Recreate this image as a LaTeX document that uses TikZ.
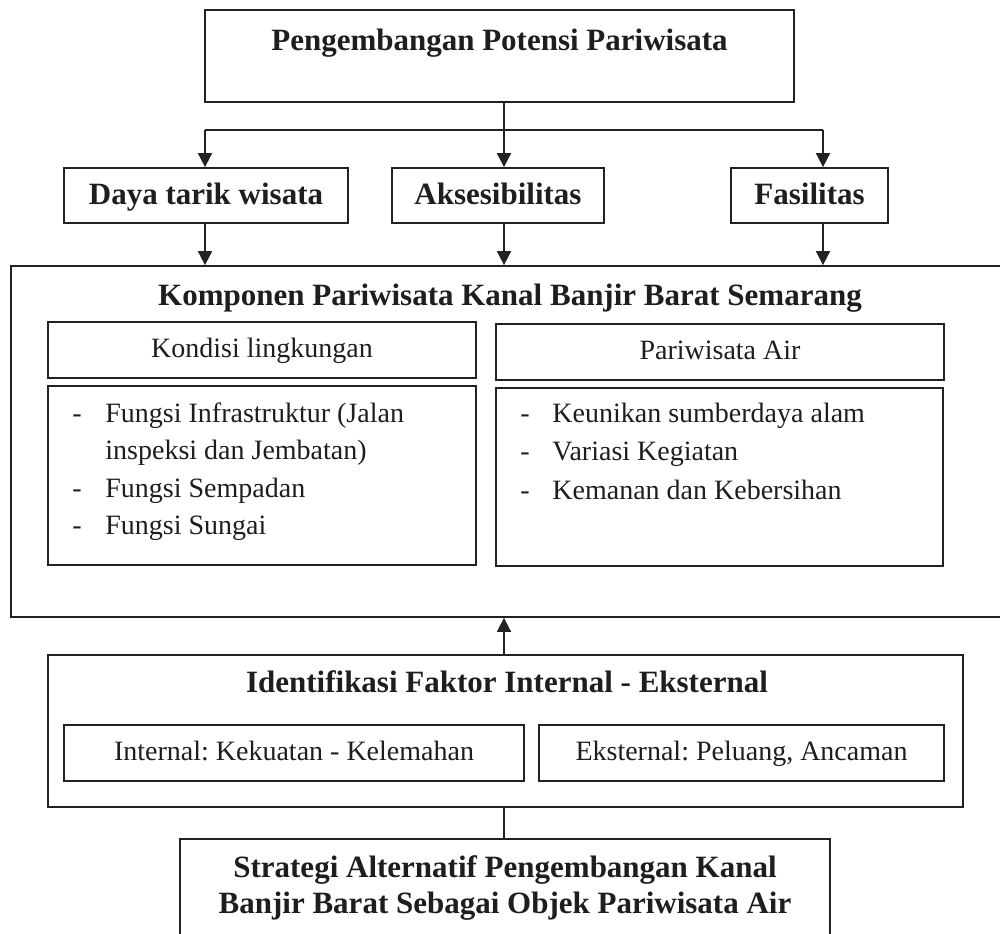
\documentclass[tikz,border=0pt]{standalone}
\usepackage{fontspec}
\setmainfont{Liberation Serif}
\usetikzlibrary{arrows.meta,calc}
\definecolor{ink}{HTML}{222222}
\definecolor{txt}{HTML}{1E1E1E}
\frenchspacing
\begin{document}
\begin{tikzpicture}[x=0.5pt,y=-0.5pt,
  box/.style n args={2}{draw=ink,line width=0.9pt,inner sep=0pt,
    minimum width=#1*0.5pt,minimum height=#2*0.5pt},
  bold/.style={text=txt,font=\fontsize{15.5}{19}\selectfont\bfseries,inner sep=0pt,
    text height=0.94em,text depth=0.2em},
  plain/.style={text=txt,font=\fontsize{14}{18}\selectfont,inner sep=0pt,
    text height=0.94em,text depth=0.2em},
  conn/.style={draw=ink,line width=0.9pt},
  arr/.style={conn,-{Triangle[width=7pt,length=7pt]}}]
\clip (0,0) rectangle (1000,933);
\fill[white] (0,0) rectangle (1000,933);
% columns of connectors
\coordinate (c1) at (205,0);
\coordinate (c2) at (504,0);
\coordinate (c3) at (823,0);
\coordinate (hb) at (0,130);
% top
\node[box={589}{92}] (top) at (499.5,56) {};
\node[bold] (toptxt) at (499.5,43) {Pengembangan Potensi Pariwisata};
% three boxes
\node[box={284}{55}] (daya) at (206,195.5) {};
\node[bold] at (206,197) {Daya tarik wisata};
\node[box={212}{55}] (aks) at (498,195.5) {};
\node[bold] at (498,197) {Aksesibilitas};
\node[box={157}{55}] (fas) at (809.5,195.5) {};
\node[bold] at (809.5,197) {Fasilitas};
% Komponen
\node[box={1001}{351}] (komp) at (511.5,441.5) {};
\node[bold] (komptxt) at (510,298) {Komponen Pariwisata Kanal Banjir Barat Semarang};
\node[box={428}{56}] (kond) at (262,350) {};
\node[plain] at (262,350) {Kondisi lingkungan};
\node[box={448}{56}] (pair) at (720,352) {};
\node[plain] at (720,352) {Pariwisata Air};
\node[box={428}{179}] (llist) at (262,475.5) {};
\node[box={447}{178}] (rlist) at (719.5,477) {};
\foreach \yy/\tt in {415/{Fungsi Infrastruktur (Jalan},490/{Fungsi Sempadan},527/{Fungsi Sungai}}{
  \node[plain,anchor=west] at (72,\yy) {-};
  \node[plain,anchor=west] at (105,\yy) {\tt};
}
\node[plain,anchor=west] at (105,452) {inspeksi dan Jembatan)};
\foreach \yy/\tt in {415/{Keunikan sumberdaya alam},453/{Variasi Kegiatan},492/{Kemanan dan Kebersihan}}{
  \node[plain,anchor=west] at (520,\yy) {-};
  \node[plain,anchor=west] at (552,\yy) {\tt};
}
% Identifikasi
\node[box={915}{152}] (ident) at (505.5,731) {};
\node[bold] at (507,685) {Identifikasi Faktor Internal - Eksternal};
\node[box={460}{56}] (intl) at (294,753) {};
\node[plain] at (294,753) {Internal: Kekuatan - Kelemahan};
\node[box={405}{56}] (ekst) at (741.5,753) {};
\node[plain] at (741.5,753) {Eksternal: Peluang, Ancaman};
% Strategi
\node[box={650}{121}] (strat) at (505,899.5) {};
\node[bold] at (505,870) {Strategi Alternatif Pengembangan Kanal};
\node[bold] at (505,906) {Banjir Barat Sebagai Objek Pariwisata Air};
% connectors
\draw[conn] (top.south -| c2) -- (hb -| c2);
\draw[conn] (hb -| c1) -- (hb -| c3);
\draw[arr] (hb -| c1) -- (daya.north -| c1);
\draw[arr] (hb -| c2) -- (aks.north -| c2);
\draw[arr] (hb -| c3) -- (fas.north -| c3);
\draw[arr] (daya.south -| c1) -- (komp.north -| c1);
\draw[arr] (aks.south -| c2) -- (komp.north -| c2);
\draw[arr] (fas.south -| c3) -- (komp.north -| c3);
\draw[arr] (ident.north -| c2) -- (komp.south -| c2);
\draw[conn] (strat.north -| c2) -- (ident.south -| c2);
\end{tikzpicture}
\end{document}
